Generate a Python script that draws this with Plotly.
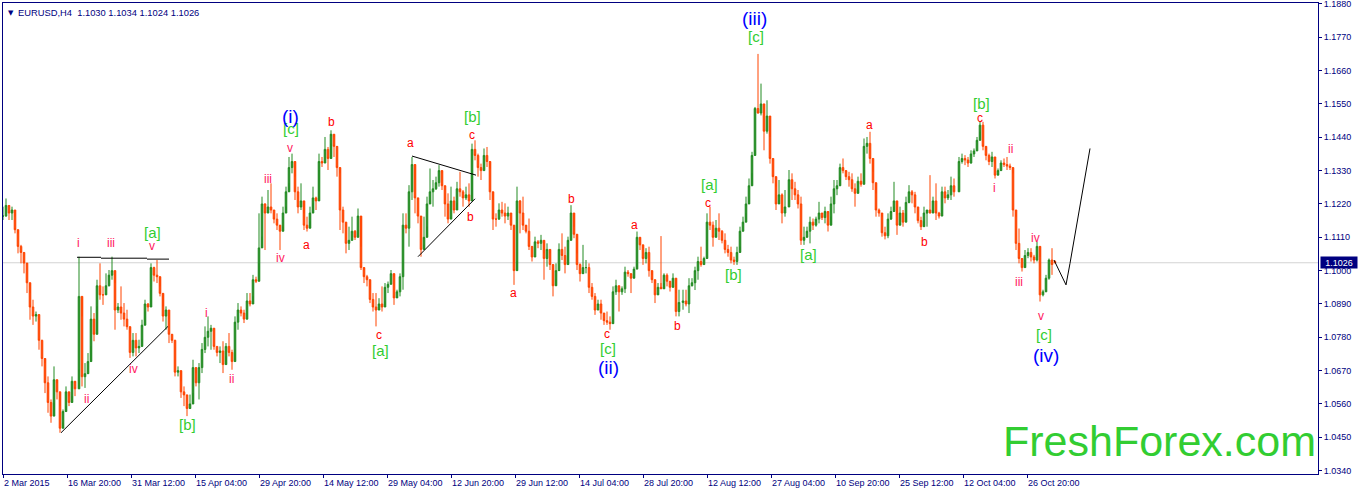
import plotly.graph_objects as go

# prices in 1/10000 units; open of a bar = previous close
bar_groups = [
    [*range(0, 73, 3), 76],
    list(range(79, 338, 3)),
    list(range(340, 677, 3)),
    list(range(680, 756, 3)),
    list(range(758, 783, 3)),
    list(range(786, 952, 3)),
    list(range(956, 1017, 3)),
    list(range(1019, 1053, 3)),
]
high_groups = [
    [11211,11238,11211,11211,11178,11123,11085,11057,11024,10926,10904,10865,10838,10772,10695,10651,10575,10684,10629,10553,10542,10618,10586,10651,10629,11046],
    [10849,10695,10728,10882,10860,10970,11024,10948,10991,11002,11046,10959,10893,10948,10893,10871,10794,10794,10794,10772,10838,10904,10893,11024,11013,11035,10948,10882,10882,10838,10788,10772,10684,10635,10618,10586,10591,10706,10662,10695,10761,10816,10849,10821,10805,10750,10750,10767,10761,10794,10739,10849,10893,10882,10871,10926,10926,10986,10980,11189,11244,11222,11266,11288,11200,11189,11145,11211,11277,11375,11386,11310,11277,11288,11189,11178,11211,11277,11244,11386,11375,11441,11408,11463,11441,11408,11321],
    [11211,11145,11145,11178,11134,11205,11079,11002,10986,10937,10926,10926,10909,10948,10959,10964,11002,10980,10937,10991,11189,11189,11282,11375,11299,11233,11134,11178,11244,11337,11299,11310,11348,11321,11277,11255,11277,11244,11293,11326,11266,11277,11288,11419,11430,11386,11353,11403,11408,11337,11233,11189,11222,11227,11222,11211,11189,11030,11277,11233,11244,11145,11172,11079,11112,11101,11118,11057,11090,11057,11002,11024,11090,11123,11079,11112,11216,11145,11057,11024,11085,11035,11024,10959,10926,10904,10904,10860,10865,10849,10948,10970,10948,10948,11013,11002,10986,11013,11129,11101,11074,11074,11079,10986,10959,10959,11114,10991,10991,10964,10991,10926,10937],
    [10937,10937,10975,10975,11013,11046,11079,11046,11189,11211,11162,11167,11189,11134,11123,11085,11079,11046,11079,11145,11178,11244,11304,11392,11540,11715],
    [11617,11518,11562,11441,11364,11277,11299,11255,11266],
    [11332,11321,11293,11266,11244,11145,11145,11178,11172,11178,11227,11189,11211,11189,11244,11299,11299,11353,11370,11326,11326,11321,11288,11310,11321,11436,11441,11458,11326,11255,11205,11178,11145,11189,11211,11293,11183,11211,11200,11244,11282,11266,11260,11200,11178,11211,11189,11315,11244,11288,11194,11277,11277,11266,11310,11304],
    [11375,11386,11381,11375,11397,11403,11441,11491,11491,11397,11386,11392,11353,11337,11364,11370,11375,11353,11321,11178,11139],
    [11035,11068,11074,11074,11052,11096,11046,10937,10986,11040,11074,11034],
]
low_groups = [
    [11167,11178,11167,11167,11123,11057,11024,10991,10926,10838,10821,10832,10739,10684,10596,10531,10498,10564,10575,10465,10498,10553,10553,10586,10586,10673],
    [10618,10613,10662,10750,10767,10882,10904,10887,10926,10948,10970,10805,10860,10838,10816,10805,10712,10717,10717,10728,10772,10865,10865,10936,10964,10959,10915,10832,10805,10761,10761,10651,10651,10580,10553,10520,10547,10596,10618,10575,10662,10728,10750,10739,10739,10717,10695,10662,10717,10717,10673,10739,10805,10849,10827,10838,10882,10915,10959,11024,11112,11068,11200,11189,11156,11134,11068,11145,11211,11288,11321,11233,11189,11200,11134,11129,11162,11222,11200,11332,11342,11364,11332,11419,11375,11310,11134],
    [11123,11057,11068,11101,11101,11134,11002,10959,10948,10893,10865,10816,10871,10865,10898,10926,10959,10887,10915,10915,10937,11123,11079,11233,11189,11156,11046,11085,11145,11233,11211,11266,11277,11266,11178,11156,11178,11189,11222,11244,11211,11233,11211,11332,11364,11310,11299,11332,11342,11233,11134,11145,11167,11178,11156,11167,11134,10953,11030,11123,11134,11123,11068,11030,11046,11074,11068,10970,11013,11002,10915,10970,11002,11035,10991,11068,11101,11107,11002,10964,11002,10991,10926,10904,10854,10871,10838,10821,10821,10805,10838,10920,10865,10920,10926,10980,10926,10980,11035,11068,11019,11024,10980,10959,10893,10926,10959,10959,10948,10931,10948,10849,10849],
    [10871,10882,10860,10948,10936,10970,11013,11024,11101,11134,11079,11123,11101,11090,11057,11046,11024,11019,11019,11079,11134,11189,11233,11321,11397,11518],
    [11512,11397,11452,11353,11288,11200,11233,11156,11178],
    [11233,11233,11233,11205,11085,11085,11112,11090,11134,11145,11156,11167,11156,11129,11178,11189,11249,11310,11321,11299,11277,11260,11211,11266,11277,11332,11386,11353,11266,11178,11178,11112,11103,11107,11167,11211,11118,11156,11145,11189,11222,11222,11189,11156,11134,11162,11145,11189,11200,11167,11172,11200,11222,11233,11233,11244],
    [11310,11353,11348,11342,11353,11375,11397,11458,11397,11364,11348,11342,11304,11321,11332,11342,11332,11332,11178,11068,11024],
    [10997,11024,11041,11030,11024,11030,10898,10915,10936,10970,10986,11024],
]
close_groups = [
    [11180,11215,11190,11200,11135,11080,11060,11025,10960,10880,10850,10855,10770,10710,10630,10565,10520,10640,10600,10480,10535,10600,10565,10635,10610,10915],
    [10650,10660,10700,10840,10790,10950,10920,10920,10950,10985,11000,10870,10880,10860,10840,10815,10730,10770,10745,10750,10820,10890,10880,11010,10985,10980,10925,10850,10870,10790,10770,10665,10670,10600,10590,10545,10560,10680,10630,10680,10740,10780,10800,10810,10750,10730,10735,10690,10750,10730,10700,10830,10870,10860,10840,10900,10890,10970,10965,11075,11220,11190,11210,11200,11170,11150,11130,11190,11260,11340,11360,11260,11210,11230,11150,11140,11190,11240,11230,11360,11355,11400,11370,11450,11410,11340,11200],
    [11160,11090,11100,11130,11110,11180,11010,10980,10970,10905,10880,10870,10890,10880,10945,10955,10990,10910,10930,10980,11150,11140,11260,11350,11240,11180,11070,11110,11220,11260,11270,11290,11330,11280,11220,11170,11230,11200,11270,11260,11240,11250,11230,11400,11380,11340,11330,11380,11360,11260,11170,11170,11200,11190,11180,11190,11150,11000,11230,11190,11150,11130,11080,11045,11095,11090,11100,11040,11070,11020,10950,11000,11070,11050,11020,11100,11190,11120,11020,10990,11010,11010,10945,10915,10870,10890,10860,10835,10830,10825,10930,10950,10930,10940,10995,10990,10975,11005,11110,11085,11040,11060,11000,10970,10920,10945,10940,10985,10965,10945,10975,10865,10895],
    [10900,10890,10950,10960,11000,11030,11020,11040,11160,11150,11110,11140,11130,11100,11070,11060,11035,11030,11060,11130,11160,11220,11280,11380,11535,11520],
    [11550,11460,11510,11370,11310,11220,11250,11190,11210],
    [11300,11270,11250,11220,11100,11110,11130,11160,11150,11170,11190,11175,11195,11150,11220,11270,11280,11340,11330,11310,11300,11270,11255,11295,11285,11410,11420,11370,11290,11200,11190,11125,11115,11170,11195,11230,11150,11190,11160,11225,11260,11250,11210,11165,11145,11190,11200,11190,11230,11190,11180,11260,11240,11250,11280,11260],
    [11360,11370,11365,11355,11385,11395,11430,11480,11410,11380,11360,11375,11315,11330,11355,11350,11345,11340,11200,11090,11040],
    [11010,11050,11060,11045,11035,11080,10920,10930,10975,11035,11020,11026],
]
for i, (b, h, l, c) in enumerate(zip(bar_groups, high_groups, low_groups, close_groups)):
    assert len(b) == len(h) == len(l) == len(c), (i, len(b), len(h), len(l), len(c))

bars = [v for g in bar_groups for v in g]
high = [v / 10000 for g in high_groups for v in g]
low = [v / 10000 for g in low_groups for v in g]
close = [v / 10000 for g in close_groups for v in g]
open_ = [close[0]] + close[:-1]
open_[-1] = 1.1030

price_ticks = [1.1880, 1.1770, 1.1660, 1.1550, 1.1440, 1.1330, 1.1220, 1.1110, 1.1000, 1.0890, 1.0780, 1.0670, 1.0560, 1.0450, 1.0340]
date_ticks = [0, 64, 128, 192, 256, 320, 384, 448, 512, 576, 640, 704, 768, 832, 896, 960, 1024]
date_labels = ["2 Mar 2015", "16 Mar 20:00", "31 Mar 12:00", "15 Apr 04:00", "29 Apr 20:00", "14 May 12:00",
               "29 May 04:00", "12 Jun 20:00", "29 Jun 12:00", "14 Jul 04:00", "28 Jul 20:00", "12 Aug 12:00",
               "27 Aug 04:00", "10 Sep 20:00", "25 Sep 12:00", "12 Oct 04:00", "26 Oct 20:00"]

lines_bar = [[74, 98], [98, 144], [144, 166], [58, 165], [409, 473], [415, 472], [1051, 1063, 1067, 1087]]
lines_price = [[1.1044, 1.1044], [1.1041, 1.1041], [1.1038, 1.1038], [1.0465, 1.0816], [1.1378, 1.1315],
               [1.1046, 1.1237], [1.1035, 1.0953, 1.1024, 1.1403]]

RED, PINK, GREEN, BLUE = "#ff0000", "#ff1a5e", "#32cd32", "#0000ff"
minor_labels = [("i",75,1.1090),("iii",108,1.1090),("v",149,1.1080),("ii",83,1.0576),("iv",130,1.0675),
                ("i",203,1.0860),("ii",228,1.0642),("iii",265,1.1301),("iv",277,1.1041),("v",287,1.1403),
                ("ii",1007,1.1400),("i",991,1.1272),("iii",1016,1.0962),("iv",1032,1.1107),("v",1038,1.0850)]
letter_labels = [("a",303,1.1084),("b",328,1.1489),("a",407,1.1420),("c",469,1.1449),("b",467,1.1176),
                 ("a",510,1.0926),("b",568,1.1235),("c",376,1.0787),("a",631,1.1150),("c",604,1.0790),
                 ("b",674,1.0817),("c",705,1.1222),("a",866,1.1479),("b",921,1.1094),("c",977,1.1505)]
bracket_labels = [("[a]",149,1.1125),("[b]",184,1.0492),("[c]",288,1.1468),("[b]",469,1.1510),("[a]",377,1.0736),
                  ("[c]",605,1.0744),("[a]",706,1.1283),("[b]",730,1.0987),("[c]",753,1.1771),("[a]",805,1.1052),
                  ("[b]",978,1.1553),("[c]",1041,1.0789)]
wave_labels = [("(i)",287,1.1510),("(ii)",605,1.0680),("(iii)",751,1.1833),("(iv)",1043,1.0720)]

NAVY = "#000080"
FONT = "Liberation Sans"

fig = go.Figure()
fig.add_trace(go.Candlestick(
    x=bars, open=open_, high=high, low=low, close=close, whiskerwidth=0,
    increasing=dict(line=dict(color="#228b22", width=1), fillcolor="#228b22"),
    decreasing=dict(line=dict(color="#ff4500", width=1), fillcolor="#ff4500"),
    hoverinfo="skip", showlegend=False))
for lx, ly in zip(lines_bar, lines_price):
    fig.add_trace(go.Scatter(x=lx, y=ly, mode="lines", line=dict(color="black", width=1),
                             hoverinfo="skip", showlegend=False))

anns = []
for group, color, size in [(minor_labels, PINK, 12), (letter_labels, RED, 12),
                           (bracket_labels, GREEN, 15), (wave_labels, BLUE, 19)]:
    for text, b, p in group:
        anns.append(dict(x=b, y=p, text=text, showarrow=False, xanchor="center", yanchor="middle",
                         font=dict(family=FONT, size=size, color=color)))
anns.append(dict(xref="paper", x=1, y=1.0438, text="FreshForex.com", showarrow=False, xanchor="right", yanchor="middle",
                 font=dict(family=FONT, size=43, color=GREEN)))
anns.append(dict(xref="paper", yref="paper", x=0.0025, y=0.9795, text="▼", showarrow=False, xanchor="left",
                 yanchor="middle", font=dict(family="DejaVu Sans", size=7, color=NAVY)))
anns.append(dict(xref="paper", yref="paper", x=0.0098, y=0.9795,
                 text="EURUSD,H4&nbsp;&nbsp;1.1030 1.1034 1.1024 1.1026", showarrow=False, xanchor="left",
                 yanchor="middle", font=dict(family=FONT, size=9.35, color=NAVY)))
anns.append(dict(xref="paper", x=1.0012, y=1.1026, text="1.1026", showarrow=False, xanchor="left",
                 yanchor="middle", width=36, height=11, bgcolor=NAVY, borderpad=0,
                 font=dict(family=FONT, size=9, color="white")))

fig.update_layout(
    width=1358, height=492, margin=dict(l=3, r=40, t=3, b=18), paper_bgcolor="white", plot_bgcolor="white",
    boxgap=0.25, showlegend=False, annotations=anns,
    shapes=[dict(type="line", xref="paper", x0=0, x1=1, y0=1.1026, y1=1.1026, layer="below",
                 line=dict(color="#d3d3d3", width=1))],
    xaxis=dict(range=[0, 1315], rangeslider=dict(visible=False), showgrid=False, zeroline=False, automargin=False,
               tickmode="array", tickvals=date_ticks, ticktext=date_labels, ticks="outside", ticklen=3, tickwidth=1,
               tickcolor=NAVY, ticklabelposition="outside right", tickangle=0, ticklabeloverflow="allow",
               tickfont=dict(family=FONT, size=9, color=NAVY),
               showline=True, mirror=True, linecolor=NAVY, linewidth=1),
    yaxis=dict(range=[1.0329, 1.1883], side="right", showgrid=False, zeroline=False, automargin=False,
               tickmode="array", tickvals=price_ticks, ticktext=[f"{v:.4f}" for v in price_ticks],
               ticks="outside", ticklen=3, tickwidth=1, tickcolor=NAVY, ticklabeloverflow="allow",
               tickfont=dict(family=FONT, size=9, color=NAVY),
               showline=True, mirror=True, linecolor=NAVY, linewidth=1),
)
fig.write_html("out.html", config=dict(displayModeBar=False),
               post_script="document.body.style.margin='0';")
